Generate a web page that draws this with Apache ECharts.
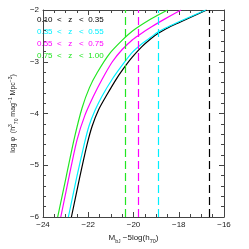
<!DOCTYPE html>
<html><head><meta charset="utf-8">
<script src="https://cdn.jsdelivr.net/npm/echarts@6/dist/echarts.min.js"></script>
<style>html,body{margin:0;padding:0;background:#fff}#c{width:249px;height:249px}</style>
</head><body><div id="c"></div>
<script>
const names = ['0.10  <   z   <  0.35', '0.35  <   z   <  0.55', '0.55  <   z   <  0.75', '0.75  <   z   <  1.00'];
const colors = ['#000000', '#00f0ff', '#ff00ff', '#22e622'];
const blackM = [-22.745, -22.381, -22.049, -21.826, -21.543, -21.19, -20.733, -20.316, -20.045, -19.64, -19.235, -18.923, -18.425, -18.02, -16.765];
const blackL = [-6.0, -5.241, -4.593, -4.241, -3.926, -3.648, -3.315, -3.056, -2.907, -2.713, -2.556, -2.454, -2.333, -2.25, -2.0];
const cyanM = [-22.879, -22.514, -22.178, -21.968, -21.704, -21.393, -20.935, -20.449, -20.045, -19.64, -19.235, -18.923, -18.425, -18.02, -16.806];
const cyanL = [-6.0, -5.241, -4.593, -4.241, -3.944, -3.667, -3.333, -3.037, -2.815, -2.657, -2.528, -2.426, -2.315, -2.231, -2.0];
const magM = [-23.215, -22.858, -22.502, -22.15, -21.773, -21.381, -20.935, -20.49, -20.045, -19.781, -19.235, -18.628, -17.899];
const magL = [-6.0, -5.241, -4.519, -4.037, -3.667, -3.333, -3.0, -2.759, -2.574, -2.491, -2.333, -2.176, -2.0];
const grnM = [-23.352, -22.972, -22.607, -22.271, -21.947, -21.595, -21.057, -20.518, -20.045, -19.235, -18.494];
const grnL = [-6.0, -5.213, -4.463, -3.889, -3.5, -3.204, -2.843, -2.593, -2.407, -2.176, -2.0];
const cutM = [-16.63, -18.92, -19.8, -20.36];
const xTicks = [-24, -22, -20, -18, -16];
const yTicks = [-6, -5, -4, -3, -2];

const curvesM = [blackM, cyanM, magM, grnM];
const curvesL = [blackL, cyanL, magL, grnL];
const minus = v => String(v).replace('-', '\u2212');
const axisCol = '#444';

const series = names.map((n, i) => ({
  name: n, type: 'line', smooth: 0.25, symbol: 'none', silent: true,
  data: curvesM[i].map((m, j) => [m, curvesL[i][j]]),
  lineStyle: { color: colors[i], width: 1.2 },
  itemStyle: { color: colors[i] },
  markLine: {
    silent: true, symbol: 'none', label: { show: false },
    lineStyle: { color: colors[i], type: [8, 4], width: 1.2 },
    data: [{ xAxis: cutM[i] }]
  }
}));

const chart = echarts.init(document.getElementById('c'), null, { renderer: 'canvas' });
chart.setOption({
  animation: false,
  backgroundColor: '#fff',
  grid: { left: 27, right: 25, top: 10, bottom: 23, containLabel: false },
  legend: {
    orient: 'vertical', left: 32, top: 16, padding: 0, icon: 'none', itemWidth: 0, itemHeight: 8, itemGap: 4,
    selectedMode: false,
    textStyle: { fontFamily: 'Liberation Sans', fontSize: 8, padding: [0, 0, 0, 0] },
    data: names.map((n, i) => ({ name: n, textStyle: { color: colors[i] } }))
  },
  xAxis: [{
    type: 'value', min: -24, max: -16, interval: 2,
    name: 'M{s|b}{ss|J} \u22125log(h{s|70})', nameLocation: 'middle', nameGap: 15,
    nameTextStyle: { fontFamily: 'Liberation Sans', fontSize: 8, color: '#222',
      rich: { s: { fontSize: 5.5, verticalAlign: 'bottom', lineHeight: 12, padding: [3, 0, 0, 0] }, ss: { fontSize: 4.5, verticalAlign: 'bottom', padding: [4, 0, 0, 0] } } },
    axisLine: { lineStyle: { color: axisCol, width: 1 } },
    axisTick: { inside: true, length: 5, lineStyle: { color: axisCol } },
    minorTick: { show: true, splitNumber: 4, length: 3, lineStyle: { color: axisCol } },
    axisLabel: { formatter: v => minus(v), fontFamily: 'Liberation Sans', fontSize: 8, color: '#222', margin: 4 },
    splitLine: { show: false }
  }, {
    type: 'value', position: 'top', min: -24, max: -16, interval: 2,
    axisLine: { lineStyle: { color: axisCol, width: 1 } },
    axisTick: { inside: true, length: 5, lineStyle: { color: axisCol } },
    minorTick: { show: true, splitNumber: 4, length: 3, lineStyle: { color: axisCol } },
    axisLabel: { show: false }, splitLine: { show: false }
  }],
  yAxis: [{
    type: 'value', min: -6, max: -2, interval: 1,
    name: 'log \u03c6  (h{sup|3}{s|70} mag{sup|\u22121} Mpc{sup|\u22123})', nameLocation: 'middle', nameGap: 15,
    nameTextStyle: { fontFamily: 'Liberation Sans', fontSize: 7, color: '#222',
      rich: { sup: { fontSize: 5, verticalAlign: 'top', lineHeight: 11 }, s: { fontSize: 5, verticalAlign: 'bottom', lineHeight: 11 } } },
    axisLine: { lineStyle: { color: axisCol, width: 1 } },
    axisTick: { inside: true, length: 5, lineStyle: { color: axisCol } },
    minorTick: { show: true, splitNumber: 5, length: 3, lineStyle: { color: axisCol } },
    axisLabel: { formatter: v => minus(v), fontFamily: 'Liberation Sans', fontSize: 8, color: '#222', margin: 4 },
    splitLine: { show: false }
  }, {
    type: 'value', position: 'right', min: -6, max: -2, interval: 1,
    axisLine: { show: true, lineStyle: { color: axisCol, width: 1 } },
    axisTick: { show: true, inside: true, length: 5, lineStyle: { color: axisCol } },
    minorTick: { show: true, splitNumber: 5, length: 3, lineStyle: { color: axisCol } },
    axisLabel: { show: false }, splitLine: { show: false }
  }],
  series: series
});
</script></body></html>
